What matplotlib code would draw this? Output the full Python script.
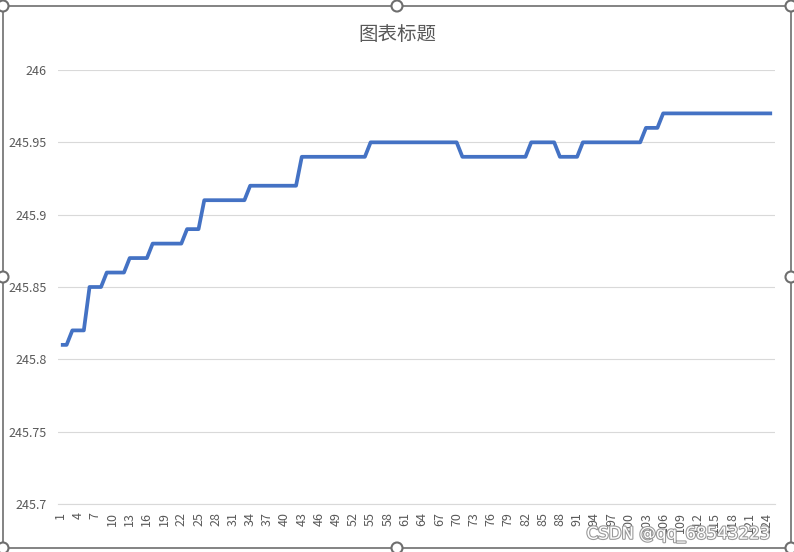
import matplotlib
matplotlib.use('Agg')
from matplotlib import pyplot as plt
from matplotlib.patches import Rectangle, Circle
import matplotlib.patheffects as pe

plt.rcParams['font.family'] = ['Noto Sans CJK SC', 'DejaVu Sans']

title = '图表标题'
watermark = 'CSDN @qq_68543223'

# one value per row of the sheet (rows 1..125)
values = [
    245.81, 245.81, 245.82, 245.82, 245.82, 245.85, 245.85, 245.85, 245.86, 245.86,
    245.86, 245.86, 245.87, 245.87, 245.87, 245.87, 245.88, 245.88, 245.88, 245.88,
    245.88, 245.88, 245.89, 245.89, 245.89, 245.91, 245.91, 245.91, 245.91, 245.91,
    245.91, 245.91, 245.91, 245.92, 245.92, 245.92, 245.92, 245.92, 245.92, 245.92,
    245.92, 245.92, 245.94, 245.94, 245.94, 245.94, 245.94, 245.94, 245.94, 245.94,
    245.94, 245.94, 245.94, 245.94, 245.95, 245.95, 245.95, 245.95, 245.95, 245.95,
    245.95, 245.95, 245.95, 245.95, 245.95, 245.95, 245.95, 245.95, 245.95, 245.95,
    245.94, 245.94, 245.94, 245.94, 245.94, 245.94, 245.94, 245.94, 245.94, 245.94,
    245.94, 245.94, 245.95, 245.95, 245.95, 245.95, 245.95, 245.94, 245.94, 245.94,
    245.94, 245.95, 245.95, 245.95, 245.95, 245.95, 245.95, 245.95, 245.95, 245.95,
    245.95, 245.95, 245.96, 245.96, 245.96, 245.97, 245.97, 245.97, 245.97, 245.97,
    245.97, 245.97, 245.97, 245.97, 245.97, 245.97, 245.97, 245.97, 245.97, 245.97,
    245.97, 245.97, 245.97, 245.97, 245.97,
]
rows = list(range(1, len(values) + 1))

y_ticks = [245.7, 245.75, 245.8, 245.85, 245.9, 245.95, 246]
y_labels = ['245.7', '245.75', '245.8', '245.85', '245.9', '245.95', '246']
x_ticks = rows[::3]

W, H = 794, 552
fig = plt.figure(figsize=(W / 100, H / 100), dpi=100)
fig.patch.set_facecolor('white')

ax = fig.add_axes([58 / W, 48 / H, (775 - 58) / W, (504 - 70) / H])
ax.plot(rows, values, color='#4472C4', linewidth=2.7, solid_capstyle='butt', zorder=3)

ax.set_xlim(0.5, len(values) + 0.5)
ax.set_ylim(245.7, 246)
ax.set_yticks(y_ticks)
ax.set_yticklabels(y_labels)
ax.set_xticks(x_ticks)
ax.set_xticklabels([str(v) for v in x_ticks], rotation=90)
ax.tick_params(axis='y', length=0, pad=8, labelsize=9, labelcolor='#595959')
ax.tick_params(axis='x', length=0, pad=6, labelsize=9, labelcolor='#595959')
ax.grid(axis='y', color='#D9D9D9', linewidth=0.8)
ax.set_axisbelow(True)
for s in ax.spines.values():
    s.set_visible(False)
ax.spines['bottom'].set_visible(True)
ax.spines['bottom'].set_color('#D9D9D9')
ax.spines['bottom'].set_linewidth(0.8)

fig.text(397 / W, 1 - 35 / H, title, ha='center', va='center', fontsize=14, color='#595959')

# excel chart frame + selection handles, drawn in pixel coords
ov = fig.add_axes([0, 0, 1, 1], zorder=10)
ov.set_xlim(0, W)
ov.set_ylim(H, 0)
ov.axis('off')
ov.patch.set_alpha(0)
ov.add_patch(Rectangle((3, 6), 788, 542, fill=False, edgecolor='#7a7a7a', linewidth=1.3))
for hx in (3, 397, 791):
    for hy in (6, 277, 548):
        if hx == 397 and hy == 277:
            continue
        ov.add_patch(Circle((hx, hy), 5.5, facecolor='white', edgecolor='#6e6e6e', linewidth=1.5))

ov.text(678, 534, watermark, ha='center', va='center', fontsize=12, color='white',
        family='DejaVu Sans',
        path_effects=[pe.withStroke(linewidth=1.6, foreground='#9a9a9a')])

fig.savefig('out.png', dpi=100)
